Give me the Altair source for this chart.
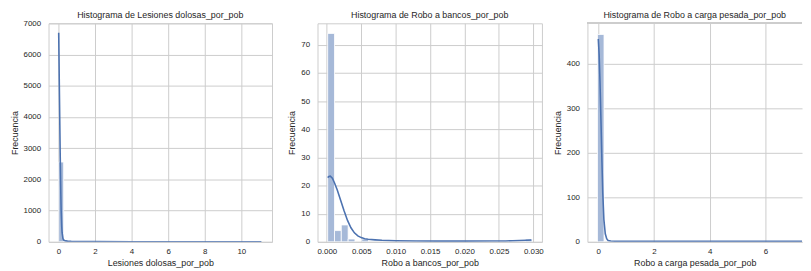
import altair as alt
import pandas as pd

# ---------------- data ----------------
# Panel 1: Lesiones dolosas_por_pob
les_bin_lo = [0.015]
les_bin_hi = [0.285]
les_counts = [2555]
les_kde_x = [0.015, 0.03, 0.05, 0.08, 0.1, 0.13, 0.15, 0.18, 0.2, 0.25, 0.3, 0.4, 0.5, 0.7, 1.0, 2.0, 4.0, 6.0, 8.0, 10.0, 11.1]
les_kde_y = [6700, 6000, 5000, 3600, 2700, 1600, 1000, 500, 300, 100, 50, 30, 22, 15, 10, 6, 4, 3, 3, 3, 3]

# Panel 2: Robo a bancos_por_pob
ban_bin_lo = [0.00012, 0.00111, 0.00210, 0.00309, 0.00507, 0.02883]
ban_bin_hi = [0.00111, 0.00210, 0.00309, 0.00408, 0.00606, 0.02982]
ban_counts = [74, 4, 6, 1, 1, 1]
ban_kde_x = [0.00012, 0.0003, 0.0005, 0.0008, 0.0011, 0.0015, 0.002, 0.0025, 0.003, 0.0035, 0.004, 0.0045, 0.005, 0.0055, 0.006, 0.007, 0.008, 0.01, 0.013, 0.016, 0.02, 0.024, 0.026, 0.027, 0.028, 0.029, 0.0297]
ban_kde_y = [22.8, 23.2, 23.3, 22.6, 21.0, 18.5, 14.8, 11.0, 7.6, 5.0, 3.2, 2.1, 1.5, 1.1, 0.9, 0.7, 0.55, 0.4, 0.3, 0.25, 0.25, 0.28, 0.32, 0.38, 0.48, 0.58, 0.65]

# Panel 3: Robo a carga pesada_por_pob
car_bin_lo = [-0.03]
car_bin_hi = [0.205]
car_counts = [465]
car_kde_x = [0.0, 0.03, 0.06, 0.1, 0.13, 0.16, 0.2, 0.25, 0.3, 0.35, 0.45, 0.6, 1.0, 2.0, 4.0, 6.0, 7.4]
car_kde_y = [455, 420, 360, 260, 180, 110, 50, 18, 7, 3, 2, 1.5, 1.2, 1.0, 1.0, 1.0, 1.0]

titles = ["Histograma de Lesiones dolosas_por_pob",
          "Histograma de Robo a bancos_por_pob",
          "Histograma de Robo a carga pesada_por_pob"]
xlabels = ["Lesiones dolosas_por_pob", "Robo a bancos_por_pob", "Robo a carga pesada_por_pob"]
ylabel = "Frecuencia"

x_domains = [[-0.54, 11.68], [-0.00136, 0.03125], [-0.39, 7.31]]
y_domains = [[0, 7000], [0, 77.6], [0, 490]]
x_ticks = [[0, 2, 4, 6, 8, 10], [0, 0.005, 0.01, 0.015, 0.02, 0.025, 0.03], [0, 2, 4, 6]]
y_ticks = [[0, 1000, 2000, 3000, 4000, 5000, 6000, 7000], [0, 10, 20, 30, 40, 50, 60, 70], [0, 100, 200, 300, 400]]
x_formats = ["d", ".3f", "d"]
widths = [226, 227, 217]
title_offsets = [-1, 3, 3]
H = 221

LINE = "#4c72b0"
BAR = "#a6b9d8"
GRID = "#cccccc"
TXT = "#262626"
FONT = "Liberation Sans"


def panel(i, lo, hi, counts, kx, ky, spines_manual=False):
    bars = pd.DataFrame({"lo": lo, "hi": hi, "count": counts})
    kde = pd.DataFrame({"x": kx, "y": ky})
    xs = alt.Scale(domain=x_domains[i], nice=False, zero=False)
    ys = alt.Scale(domain=y_domains[i], nice=False, zero=False)
    xax = alt.Axis(title=xlabels[i], values=x_ticks[i], format=x_formats[i],
                   tickCount=len(x_ticks[i]),
                   domain=spines_manual, domainColor=GRID, domainWidth=1)
    yax = alt.Axis(title=ylabel, values=y_ticks[i], format="d",
                   tickCount=len(y_ticks[i]),
                   domain=spines_manual, domainColor=GRID, domainWidth=1)
    b = alt.Chart(bars).mark_rect(fill=BAR, stroke="white", strokeWidth=0.8, clip=True).encode(
        x=alt.X("lo:Q", scale=xs, axis=xax),
        x2="hi:Q",
        y=alt.Y("count:Q", scale=ys, axis=yax),
        y2=alt.datum(0),
    )
    l = alt.Chart(kde).mark_line(color=LINE, strokeWidth=1.6, clip=True).encode(
        x=alt.X("x:Q", scale=xs, axis=xax),
        y=alt.Y("y:Q", scale=ys, axis=yax),
    )
    layers = [b, l]
    if spines_manual:
        top = alt.Chart(kde).mark_rule(color=GRID, strokeWidth=1).encode(
            x=alt.value(0), x2=alt.value(widths[i]), y=alt.value(0))
        layers.append(top)
    ch = alt.layer(*layers).properties(
        width=widths[i], height=H,
        title=alt.TitleParams(titles[i], fontSize=9, font=FONT, fontWeight="normal",
                              color=TXT, offset=title_offsets[i]),
    )
    if spines_manual:
        ch = ch.properties(view=alt.ViewBackground(strokeOpacity=0))
    return ch


p1 = panel(0, les_bin_lo, les_bin_hi, les_counts, les_kde_x, les_kde_y)
p2 = panel(1, ban_bin_lo, ban_bin_hi, ban_counts, ban_kde_x, ban_kde_y)
p3 = panel(2, car_bin_lo, car_bin_hi, car_counts, car_kde_x, car_kde_y, spines_manual=True)

chart = alt.hconcat(p1, p2, p3, spacing=46, bounds="flush").properties(
    padding={"left": 1, "top": 1, "right": 0, "bottom": 0},
).configure_view(
    stroke=GRID, strokeWidth=1,
).configure_axis(
    grid=True, gridColor=GRID, gridWidth=1, ticks=False,
    labelOverlap=False, labelFlush=False,
    labelFont=FONT, labelFontSize=8, labelColor=TXT, labelPadding=8,
    titleFont=FONT, titleFontSize=9, titleFontWeight="normal", titleColor=TXT,
    titlePadding=4,
).configure_axisX(labelPadding=6, titlePadding=3)

chart.save("out.html", embed_options={"renderer": "svg", "actions": False})
